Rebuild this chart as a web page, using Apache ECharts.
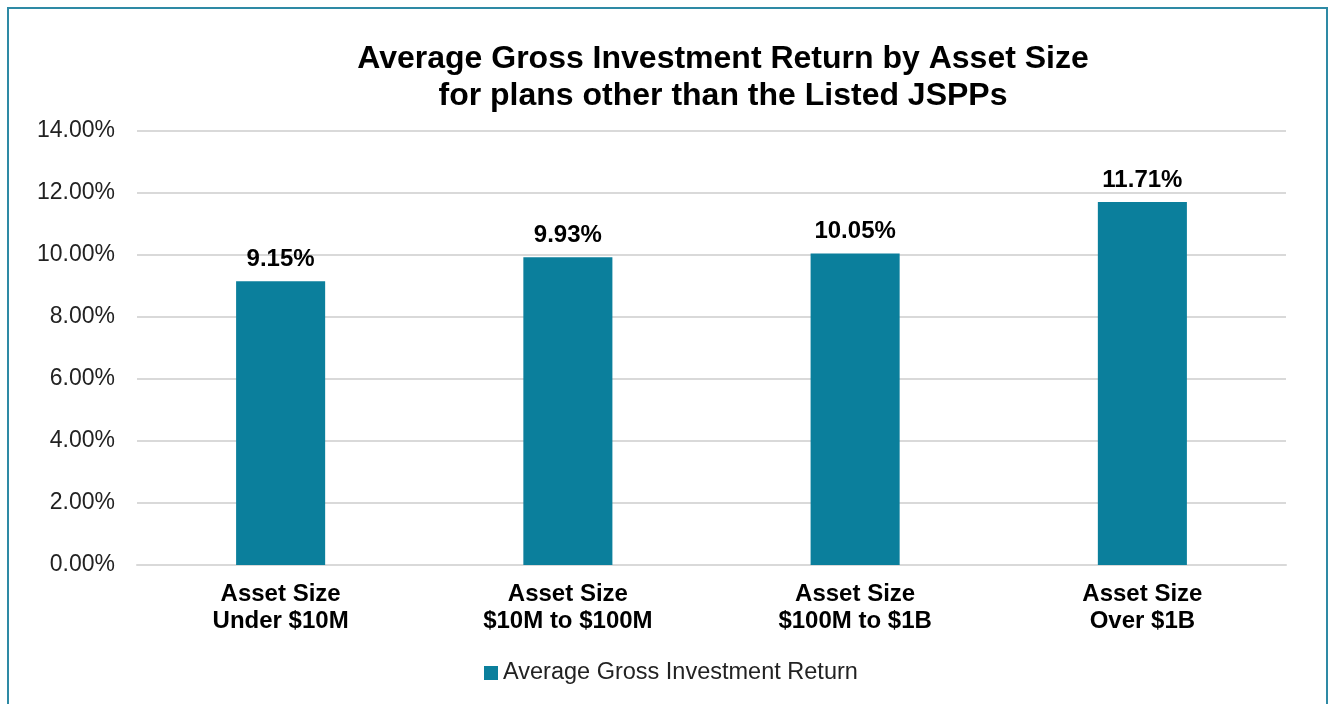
<!DOCTYPE html>
<html>
<head>
<meta charset="utf-8">
<script src="https://cdn.jsdelivr.net/npm/echarts@6/dist/echarts.min.js"></script>
<style>
  html, body { margin: 0; padding: 0; background: #fff; }
  #frame { position: absolute; left: 7px; top: 7px; width: 1321px; height: 710px; border: 2px solid #2e8aa5; box-sizing: border-box; }
  #main { position: absolute; left: 0; top: 0; width: 1333px; height: 704px; }
</style>
</head>
<body>
<div id="frame"></div>
<div id="main"></div>
<script>
// chart data
const categories = ['Asset Size\nUnder $10M', 'Asset Size\n$10M to $100M', 'Asset Size\n$100M to $1B', 'Asset Size\nOver $1B']
const returns = [9.15, 9.93, 10.05, 11.71]
const seriesName = 'Average Gross Investment Return'

const chart = echarts.init(document.getElementById('main'))
chart.setOption({
  textStyle: { fontFamily: 'Liberation Sans, Arial, sans-serif' },
  title: {
    text: 'Average Gross Investment Return by Asset Size\nfor plans other than the Listed JSPPs',
    left: 718,
    textAlign: 'center',
    top: 36,
    textStyle: { fontSize: 32, fontWeight: 'bold', color: '#000', lineHeight: 37 }
  },
  legend: {
    bottom: 14,
    left: 479,
    itemWidth: 14,
    itemHeight: 14,
    itemGap: 4,
    icon: 'rect',
    textStyle: { fontSize: 23.5, color: '#222' },
    data: [seriesName]
  },
  grid: { left: 137, right: 47, top: 131, bottom: 139, containLabel: false },
  xAxis: {
    type: 'category',
    data: categories,
    axisTick: { show: false },
    axisLine: { lineStyle: { color: '#d9d9d9', width: 2 } },
    axisLabel: { fontSize: 24, fontWeight: 'bold', color: '#000', margin: 16, lineHeight: 27 }
  },
  yAxis: {
    type: 'value',
    min: 0,
    max: 14,
    interval: 2,
    axisLine: { show: false },
    axisTick: { show: false },
    splitLine: { lineStyle: { color: '#d9d9d9', width: 2 } },
    axisLabel: {
      fontSize: 23, color: '#222', margin: 22,
      formatter: v => v.toFixed(2) + '%'
    }
  },
  series: [{
    name: seriesName,
    type: 'bar',
    data: returns,
    barWidth: '31%',
    itemStyle: { color: '#0b7f9c' },
    label: {
      show: true,
      position: 'top',
      distance: 10,
      fontSize: 24,
      fontWeight: 'bold',
      color: '#000',
      formatter: p => p.value.toFixed(2) + '%'
    }
  }]
})
</script>
</body>
</html>
